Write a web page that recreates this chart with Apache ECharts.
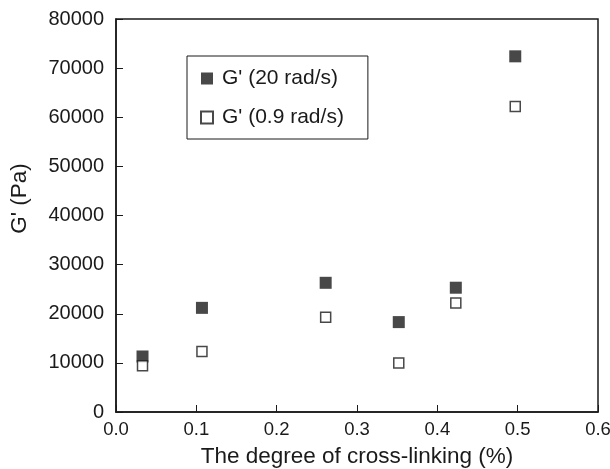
<!DOCTYPE html>
<html>
<head>
<meta charset="utf-8">
<script src="https://cdn.jsdelivr.net/npm/echarts@6/dist/echarts.min.js"></script>
<style>
  html, body { margin: 0; padding: 0; background: #fff; }
  #chart { width: 610px; height: 469px; }
</style>
</head>
<body>
<div id="chart"></div>
<script>
// degree of cross-linking (%)
const crossLinking = [0.033, 0.107, 0.261, 0.352, 0.423, 0.497];
// G' at 20 rad/s (Pa)
const g20 = [11300, 21200, 26300, 18300, 25300, 72400];
// G' at 0.9 rad/s (Pa)
const g09 = [9400, 12300, 19300, 10000, 22200, 62200];

const ink = "#1a1a1a";
const font = "'Liberation Sans', Arial, sans-serif";

let chart = echarts.init(document.getElementById("chart"));

const option = {
  animation: false,
  textStyle: { fontFamily: font, color: ink },
  grid: {
    left: 116,
    right: 12,
    top: 19,
    bottom: 57,
    outerBoundsMode: "none",
    containLabel: false,
    show: true,
    borderColor: ink,
    borderWidth: 1.5
  },
  legend: {
    orient: "vertical",
    left: 187,
    top: 56,
    padding: [12, 24, 11, 13],
    itemGap: 18,
    itemWidth: 12,
    itemHeight: 12,
    borderColor: ink,
    borderWidth: 1,
    textStyle: { fontFamily: font, fontSize: 21, color: ink, lineHeight: 20, padding: [0, 0, 0, 4] },
    data: ["G' (20 rad/s)", "G' (0.9 rad/s)"]
  },
  xAxis: {
    type: "value",
    min: 0,
    max: 0.6,
    interval: 0.1,
    name: "The degree of cross-linking (%)",
    nameLocation: "middle",
    nameGap: 33,
    nameTextStyle: { fontFamily: font, fontSize: 22.5, color: ink },
    axisLine: { lineStyle: { color: ink, width: 1.5 } },
    axisTick: { inside: true, length: 7, lineStyle: { color: ink, width: 1 } },
    axisLabel: {
      fontFamily: font,
      fontSize: 18.5,
      color: ink,
      margin: 8,
      formatter: function (v) { return v.toFixed(1); }
    },
    splitLine: { show: false }
  },
  yAxis: {
    type: "value",
    min: 0,
    max: 80000,
    interval: 10000,
    name: "G' (Pa)",
    nameLocation: "middle",
    nameGap: 85,
    nameTextStyle: { fontFamily: font, fontSize: 22.5, color: ink, padding: [0, 0, 0, 34] },
    axisLine: { lineStyle: { color: ink, width: 1.5 } },
    axisTick: { inside: true, length: 7, lineStyle: { color: ink, width: 1 } },
    axisLabel: {
      fontFamily: font,
      fontSize: 20,
      color: ink,
      margin: 12,
      formatter: function (v) { return String(v); }
    },
    splitLine: { show: false }
  },
  series: [
    {
      name: "G' (20 rad/s)",
      type: "scatter",
      symbol: "rect",
      symbolSize: 12,
      itemStyle: { color: ink },
      data: crossLinking.map((x, i) => [x, g20[i]])
    },
    {
      name: "G' (0.9 rad/s)",
      type: "scatter",
      symbol: "rect",
      symbolSize: 10,
      itemStyle: { color: "#fff", borderColor: ink, borderWidth: 1.5 },
      data: crossLinking.map((x, i) => [x, g09[i]])
    }
  ]
};

chart.setOption(option);
window.addEventListener("resize", function () {
  chart.resize();
});
</script>
</body>
</html>
